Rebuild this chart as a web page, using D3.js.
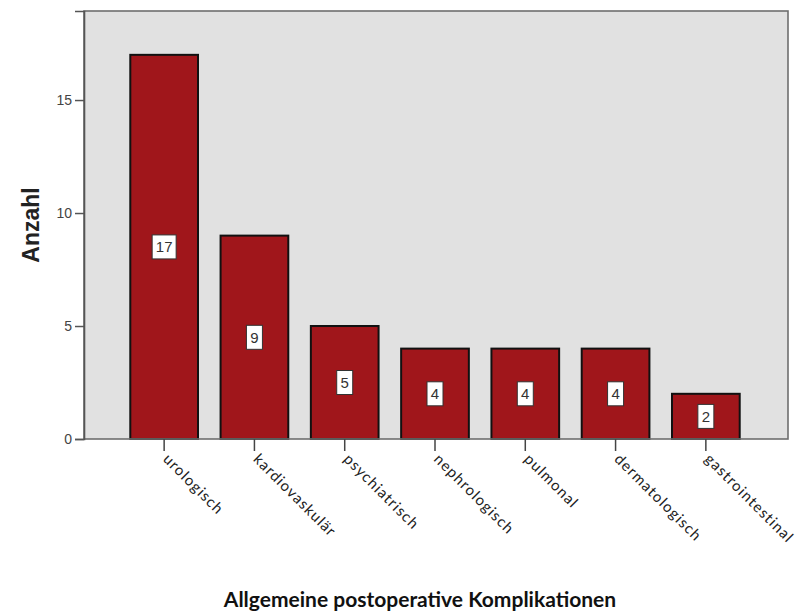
<!DOCTYPE html>
<html><head><meta charset="utf-8">
<script src="https://cdn.jsdelivr.net/npm/d3@7"></script>
<style>body{margin:0;background:#fff}svg{display:block}</style>
</head><body>
<svg id="chart" width="802" height="614"></svg>
<script>
const categories = ["urologisch","kardiovaskulär","psychiatrisch","nephrologisch","pulmonal","dermatologisch","gastrointestinal"];
const counts = [17, 9, 5, 4, 4, 4, 2];
const yTicks = [0, 5, 10, 15];

const svg = d3.select("#chart");
const plot = {left: 84, right: 788, top: 11, bottom: 439};

const y = d3.scaleLinear().domain([0, 18.94]).range([plot.bottom, plot.top]);
const x = d3.scaleBand().domain(categories).range([119, 751]).paddingInner(0.25).paddingOuter(0.125);

// plot background
svg.append("rect")
  .attr("x", plot.left).attr("y", plot.top)
  .attr("width", plot.right - plot.left).attr("height", plot.bottom - plot.top)
  .attr("fill", "#e1e1e1");

// bars
svg.append("g").selectAll("rect").data(categories).join("rect")
  .attr("x", d => x(d)).attr("width", x.bandwidth())
  .attr("y", (d, i) => y(counts[i]))
  .attr("height", (d, i) => y(0) - y(counts[i]))
  .attr("fill", "#a0161b").attr("stroke", "#111").attr("stroke-width", 2);

// frame around the plot area
svg.append("rect")
  .attr("x", plot.left).attr("y", plot.top)
  .attr("width", plot.right - plot.left).attr("height", plot.bottom - plot.top)
  .attr("fill", "none").attr("stroke", "#6e6e6e").attr("stroke-width", 1.6);

// value labels in white boxes
const lab = svg.append("g").selectAll("g").data(categories).join("g")
  .attr("transform", (d, i) => `translate(${x(d) + x.bandwidth() / 2},${y(counts[i] / 2)})`);
lab.append("rect")
  .attr("x", (d, i) => String(counts[i]).length > 1 ? -12 : -8)
  .attr("width", (d, i) => String(counts[i]).length > 1 ? 24 : 16)
  .attr("y", -12).attr("height", 24)
  .attr("fill", "#fff").attr("stroke", "#333").attr("stroke-width", 1);
lab.append("text")
  .attr("text-anchor", "middle").attr("dy", "0.36em")
  .attr("font-family", "Liberation Sans, Arial, sans-serif").attr("font-size", 15)
  .attr("fill", "#333")
  .text((d, i) => counts[i]);

// y axis
const yAxis = svg.append("g").attr("transform", `translate(${plot.left},0)`)
  .call(d3.axisLeft(y).tickValues(yTicks).tickSize(9).tickPadding(3));
yAxis.select(".domain").attr("stroke", "#555").attr("stroke-width", 1.6);
yAxis.selectAll(".tick line").attr("stroke", "#555").attr("stroke-width", 1.5);
yAxis.selectAll(".tick text").attr("font-family", "Liberation Sans, Arial, sans-serif")
  .attr("font-size", 14).attr("fill", "#444");

// x axis (ticks and category labels; the frame supplies the baseline)
const xAxis = svg.append("g").attr("transform", `translate(0,${plot.bottom})`)
  .call(d3.axisBottom(x).tickSize(12).tickSizeOuter(0));
xAxis.select(".domain").remove();
xAxis.selectAll(".tick line").attr("stroke", "#444").attr("stroke-width", 1.5);
xAxis.selectAll(".tick text")
  .attr("font-family", "Lato, Open Sans, sans-serif").attr("font-size", 15)
  .attr("fill", "#222").attr("letter-spacing", "1.1px")
  .attr("text-anchor", "start").attr("dy", null).attr("y", null)
  .attr("transform", "translate(-2,21) rotate(45)");

// axis titles
svg.append("text")
  .attr("transform", `translate(39,${(plot.top + plot.bottom) / 2}) rotate(-90)`)
  .attr("text-anchor", "middle")
  .attr("font-family", "Liberation Sans, Arial, sans-serif").attr("font-weight", "bold")
  .attr("font-size", 23).attr("fill", "#222")
  .text("Anzahl");

svg.append("text")
  .attr("x", 420).attr("y", 607).attr("text-anchor", "middle")
  .attr("font-family", "Lato, Open Sans, sans-serif").attr("font-weight", "bold")
  .attr("font-size", 21).attr("fill", "#111")
  .text("Allgemeine postoperative Komplikationen");
</script>
</body></html>
